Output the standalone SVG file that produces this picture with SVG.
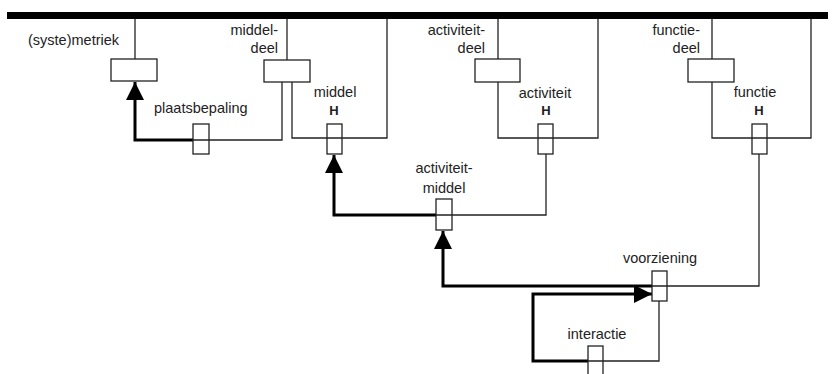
<svg xmlns="http://www.w3.org/2000/svg" width="833" height="374" viewBox="0 0 833 374">
<style>
text{font-family:"Liberation Sans",Arial,sans-serif;font-size:14.5px;fill:#222}
.h{font-weight:bold;text-anchor:middle;font-size:13px}
.e{text-anchor:end}
.m{text-anchor:middle}
.thin{fill:none;stroke:#222;stroke-width:1.3}
.thick{fill:none;stroke:#000;stroke-width:3}
.box{fill:none;stroke:#222;stroke-width:1.3}
</style>
<defs>
<marker id="arr" markerUnits="userSpaceOnUse" markerWidth="18" markerHeight="18" viewBox="0 0 16 16" refX="16" refY="8" orient="auto">
<path d="M0,0 L16,8 L0,16 Z" fill="#000"/>
</marker>
</defs>
<rect x="7" y="12" width="821" height="7" fill="#000"/>
<g id="connectors">
<path class="thin" d="M135,19 V59"/>
<path class="thin" d="M287,19 V60"/>
<path class="thin" d="M193,140 H282 V82"/>
<path class="thin" d="M292,82 V138 H387 V19"/>
<path class="thin" d="M498,19 V59 M498,82 V138 H598 V19"/>
<path class="thin" d="M546,154 V215 H436"/>
<path class="thin" d="M712,19 V59 M712,82 V138 H811 V19"/>
<path class="thin" d="M759,154 V286 H652"/>
<path class="thin" d="M659,301 V361 H588"/>
<path class="thick" d="M193,140 H135 V82" marker-end="url(#arr)"/>
<path class="thick" d="M436,215 H334 V155" marker-end="url(#arr)"/>
<path class="thick" d="M652,286 H443 V231" marker-end="url(#arr)"/>
<path class="thick" d="M588,361 H533 V294 H652" marker-end="url(#arr)"/>
</g>
<g id="metriek">
<rect class="box" x="111" y="59" width="46" height="22"/>
<text x="28" y="45">(syste)metriek</text>
</g>
<g id="middeldeel">
<rect class="box" x="264" y="60" width="46" height="22"/>
<text class="e" x="278" y="35">middel-</text>
<text class="e" x="278" y="53">deel</text>
</g>
<g id="plaatsbepaling">
<rect class="box" x="193" y="124" width="16" height="30"/>
<text x="154" y="113">plaatsbepaling</text>
</g>
<g id="middel">
<rect class="box" x="327" y="124" width="15" height="30"/>
<text class="m" x="335" y="97">middel</text>
<text class="h" x="334" y="115">H</text>
</g>
<g id="activiteitdeel">
<rect class="box" x="475" y="59" width="45" height="23"/>
<text class="e" x="485" y="35">activiteit-</text>
<text class="e" x="485" y="53">deel</text>
</g>
<g id="activiteit">
<rect class="box" x="538" y="124" width="15" height="30"/>
<text class="m" x="545" y="98">activiteit</text>
<text class="h" x="546" y="115">H</text>
</g>
<g id="functiedeel">
<rect class="box" x="688" y="59" width="46" height="23"/>
<text class="e" x="700" y="35">functie-</text>
<text class="e" x="700" y="53">deel</text>
</g>
<g id="functie">
<rect class="box" x="752" y="124" width="15" height="30"/>
<text class="m" x="755" y="97">functie</text>
<text class="h" x="759" y="115">H</text>
</g>
<g id="activiteitmiddel">
<rect class="box" x="436" y="199" width="16" height="31"/>
<text class="m" x="444" y="173">activiteit-</text>
<text class="m" x="444" y="193">middel</text>
</g>
<g id="voorziening">
<rect class="box" x="652" y="271" width="15" height="30"/>
<text class="m" x="660" y="263">voorziening</text>
</g>
<g id="interactie">
<rect class="box" x="588" y="346" width="15" height="40"/>
<text class="m" x="597" y="339">interactie</text>
</g>
</svg>
